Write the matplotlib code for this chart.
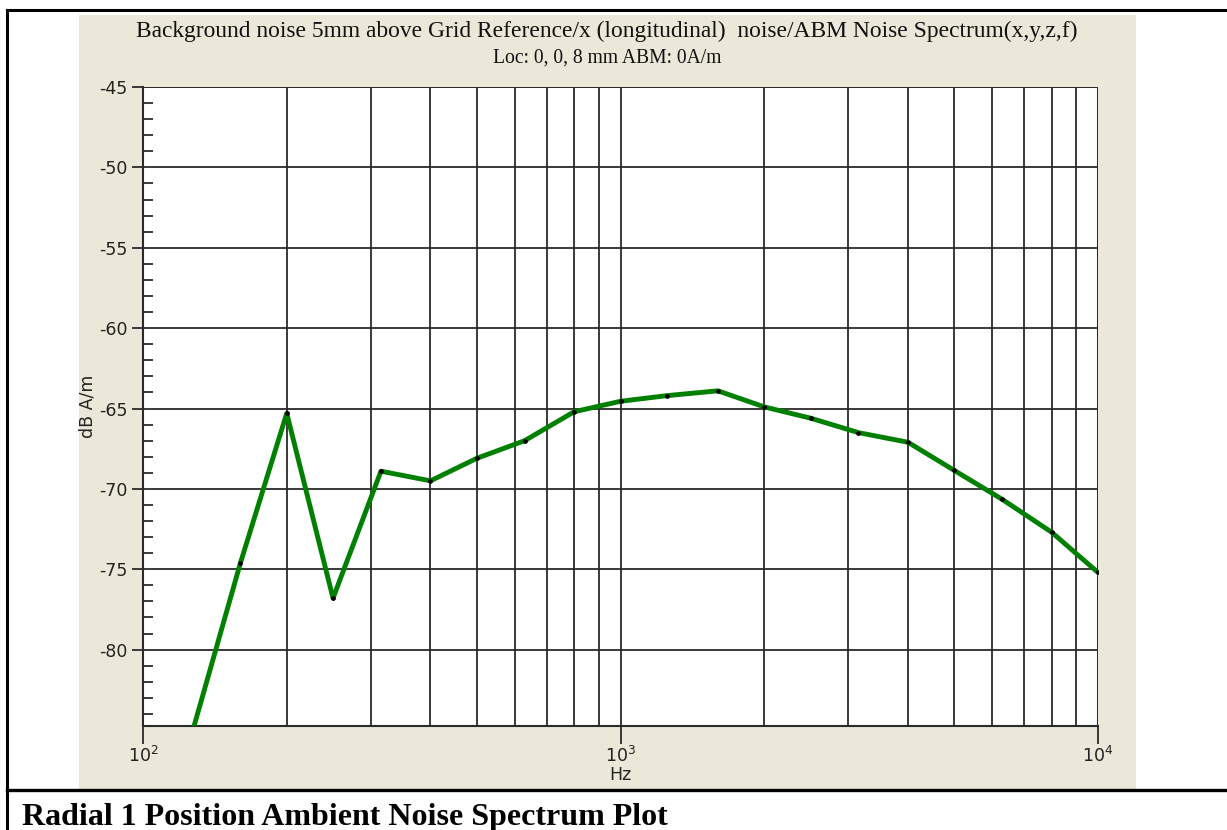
import matplotlib
matplotlib.use("Agg")
import matplotlib.pyplot as plt
from matplotlib.lines import Line2D
from matplotlib.patches import Rectangle
from matplotlib.ticker import FixedLocator, NullFormatter, LogLocator

# ---- data ----
freq_hz = [125, 160, 200, 250, 315, 400, 500, 630, 800, 1000, 1250, 1600,
           2000, 2500, 3150, 4000, 5000, 6300, 8000, 10000]
level_db = [-85.8, -74.6, -65.3, -76.8, -68.9, -69.5, -68.1, -67.0, -65.2, -64.55,
            -64.2, -63.9, -64.9, -65.6, -66.5, -67.1, -68.85, -70.65, -72.7, -75.2]
y_major = [-80, -75, -70, -65, -60, -55, -50, -45]
y_major_labels = ["-80", "-75", "-70", "-65", "-60", "-55", "-50", "-45"]
x_major = [100, 1000, 10000]
x_major_labels = [r"10$^{2}$", r"10$^{3}$", r"10$^{4}$"]

title1 = "Background noise 5mm above Grid Reference/x (longitudinal)  noise/ABM Noise Spectrum(x,y,z,f)"
title2 = "Loc: 0, 0, 8 mm ABM: 0A/m"
caption = "Radial 1 Position Ambient Noise Spectrum Plot"

W, H = 1227, 830
fig = plt.figure(figsize=(W / 100, H / 100), dpi=100)
fig.patch.set_facecolor("white")

def fx(px):
    return px / W

def fy(py):
    return 1 - py / H

beige = "#EBE8D9"
# beige panel
fig.patches.append(Rectangle((fx(79), fy(790)), fx(1136) - fx(79), fy(15) - fy(790),
                             transform=fig.transFigure, facecolor=beige, edgecolor="none", zorder=-5))
# outer table borders
fig.lines.append(Line2D([fx(7), fx(7)], [fy(10), fy(830)], transform=fig.transFigure, color="black", lw=2.2, zorder=-4))
fig.lines.append(Line2D([fx(7), fx(1227)], [fy(10), fy(10)], transform=fig.transFigure, color="black", lw=2.2, zorder=-4))
fig.lines.append(Line2D([fx(7), fx(1227)], [fy(790), fy(790)], transform=fig.transFigure, color="black", lw=2.4, zorder=-4))

# axes
left, right, top, bottom = 143, 1098, 87, 726
ax = fig.add_axes([fx(left), fy(bottom), fx(right) - fx(left), fy(top) - fy(bottom)])
ax.set_zorder(2)
ax.set_facecolor("white")
ax.set_xscale("log")
ax.set_xlim(100, 10000)
ax.set_ylim(-84.75, -45)

ax.plot(freq_hz, level_db, color="#008000", lw=3.5, solid_joinstyle="round", zorder=3, clip_on=True)
ax.plot(freq_hz, level_db, linestyle="none", marker="o", ms=2.4, color="black", zorder=4)

# ticks / grid
ax.xaxis.set_major_locator(FixedLocator(x_major))
ax.xaxis.set_minor_locator(LogLocator(base=10, subs=range(2, 10)))
ax.xaxis.set_minor_formatter(NullFormatter())
ax.set_xticks(x_major)
ax.set_xticklabels(x_major_labels)
ax.set_yticks(y_major)
ax.set_yticklabels(y_major_labels)
ax.yaxis.set_minor_locator(FixedLocator([v for v in range(-84, -45) if v % 5 != 0]))

gridc = "#2a2a2a"
ax.grid(True, which="major", axis="both", color=gridc, lw=1.3)
ax.grid(True, which="minor", axis="x", color=gridc, lw=1.3)
ax.set_axisbelow(True)

for s in ["top", "right"]:
    ax.spines[s].set_visible(False)
ax.spines["left"].set_color(gridc)
ax.spines["bottom"].set_color(gridc)
ax.spines["left"].set_linewidth(1.5)
ax.spines["bottom"].set_linewidth(1.5)
ax.axhline(-45, color=gridc, lw=1.3, zorder=1)
ax.axvline(10000, color=gridc, lw=1.3, zorder=1)

tickfont = "DejaVu Sans"
ax.tick_params(axis="y", which="major", direction="out", length=8, width=1.3, color=gridc,
               labelsize=12.5, pad=3)
ax.tick_params(axis="y", which="minor", direction="in", length=7, width=1.3, color=gridc)
ax.tick_params(axis="x", which="major", direction="out", length=13, width=1.3, color=gridc,
               labelsize=12.5, pad=1)
ax.tick_params(axis="x", which="minor", length=0)
for lab in ax.get_xticklabels() + ax.get_yticklabels():
    lab.set_fontfamily(tickfont)
    lab.set_color("#222222")

ax.set_xlabel("Hz", fontsize=12.5, fontfamily=tickfont, color="#222222", labelpad=0)
ax.set_ylabel("dB A/m", fontsize=12.5, fontfamily=tickfont, color="#222222", labelpad=2)

fig.text(fx(607), fy(31), title1, ha="center", va="center", fontsize=16.9,
         fontfamily="Liberation Serif", color="#111111")
fig.text(fx(607), fy(58), title2, ha="center", va="center", fontsize=14.1,
         fontfamily="Liberation Serif", color="#111111")
fig.text(fx(22), fy(817), caption, ha="left", va="center", fontsize=23,
         fontfamily="Liberation Serif", fontweight="bold", color="black")

fig.savefig("out.png", dpi=100, facecolor="white")
